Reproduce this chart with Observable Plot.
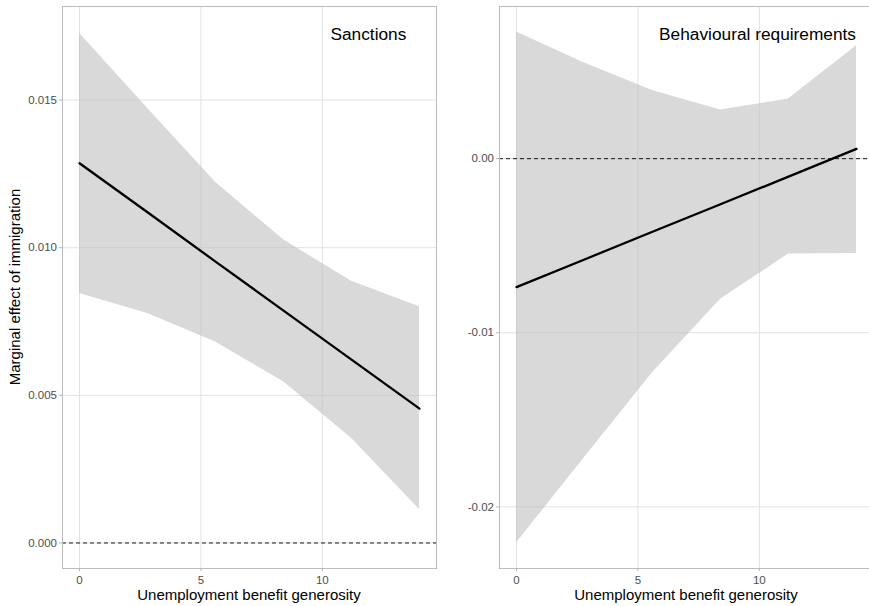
<!DOCTYPE html>
<html><head><meta charset="utf-8">
<script src="https://cdn.jsdelivr.net/npm/d3@7"></script>
<script src="https://cdn.jsdelivr.net/npm/@observablehq/plot@0.6"></script>
<style>
html,body{margin:0;padding:0;background:#fff;}
#wrap{position:relative;width:869px;height:606px;overflow:hidden;font-family:"Liberation Sans",Arial,sans-serif;}
#wrap svg{position:absolute;top:0;}
</style></head>
<body><div id="wrap"></div>
<script>
// Data
const generosity = [0, 2.8, 5.6, 8.4, 11.2, 14];
const sanctionsEst = [0.01286, 0.01120, 0.00953, 0.00787, 0.00621, 0.00455];
const sanctionsHi  = [0.01726, 0.01472, 0.01222, 0.01027, 0.00886, 0.00800];
const sanctionsLo  = [0.00845, 0.00777, 0.00681, 0.00546, 0.00355, 0.00113];
const behavEst = [-0.00738, -0.00579, -0.00420, -0.00262, -0.00103, 0.00056];
const behavHi  = [0.00727, 0.00549, 0.00391, 0.00280, 0.00342, 0.00648];
const behavLo  = [-0.02207, -0.01717, -0.01230, -0.00808, -0.00548, -0.00544];
const xTicks = [0, 5, 10];
const sanctionsTicks = [0, 0.005, 0.010, 0.015];
const behavTicks = [-0.02, -0.01, 0.00];
const panelTitles = ["Sanctions", "Behavioural requirements"];
const xTitle = "Unemployment benefit generosity";
const yTitle = "Marginal effect of immigration";

const font = '"Liberation Sans", Arial, sans-serif';
function panel({est, hi, lo, yDomain, yTicks, fmt, title, titleX, marginLeft, marginRight}) {
  const data = generosity.map((x, i) => ({x, est: est[i], hi: hi[i], lo: lo[i]}));
  const f = d3.formatLocale({decimal: ".", thousands: ",", grouping: [3], currency: ["", ""], minus: "-"}).format(fmt);
  return Plot.plot({
    width: 440, height: 606,
    marginLeft, marginRight, marginTop: 6, marginBottom: 38,
    style: {fontFamily: font, background: "transparent"},
    x: {domain: [-0.7, 14.7], label: null},
    y: {domain: yDomain, label: null},
    marks: [
      Plot.gridX(xTicks, {stroke: "#e2e2e2", strokeOpacity: 1}),
      Plot.gridY(yTicks, {stroke: "#e2e2e2", strokeOpacity: 1}),
      Plot.areaY(data, {x: "x", y1: "lo", y2: "hi", fill: "#bdbdbd", fillOpacity: 0.58}),
      Plot.ruleY([0], {stroke: "#000", strokeWidth: 0.9, strokeDasharray: "4,3"}),
      Plot.lineY(data, {x: "x", y: "est", stroke: "#000", strokeWidth: 2.3}),
      Plot.frame({stroke: "#bcbcbc"}),
      Plot.axisX({ticks: xTicks, tickSize: 3, tickPadding: 4, stroke: "#b3b3b3", fill: "#4d4d4d", fontSize: 11.5, label: null}),
      Plot.axisY({ticks: yTicks, tickFormat: f, tickSize: 3, tickPadding: 2.5, stroke: "#b3b3b3", fill: "#4d4d4d", fontSize: 11.5, label: null}),
      Plot.text([title], {x: titleX, frameAnchor: "top", dy: 33.5, lineAnchor: "bottom", textAnchor: "end", fontSize: 17.3, fill: "#000", text: d => d})
    ]
  });
}

const wrap = document.getElementById("wrap");
const left = panel({est: sanctionsEst, hi: sanctionsHi, lo: sanctionsLo,
  yDomain: [-0.000865, 0.01817], yTicks: sanctionsTicks, fmt: ".3f",
  title: panelTitles[0], titleX: 13.46, marginLeft: 62, marginRight: 4});
left.style.left = "0px";
wrap.appendChild(left);

const right = panel({est: behavEst, hi: behavHi, lo: behavLo,
  yDomain: [-0.02354, 0.00874], yTicks: behavTicks, fmt: ".2f",
  title: panelTitles[1], titleX: 13.98, marginLeft: 59, marginRight: 7});
right.style.left = "440px";
wrap.appendChild(right);

// Axis titles overlay
const ov = d3.select(wrap).append("svg")
  .attr("width", 869).attr("height", 606)
  .style("left", "0px").style("pointer-events", "none")
  .attr("font-family", font);
ov.append("text").attr("x", 249).attr("y", 600).attr("text-anchor", "middle")
  .attr("font-size", 15).attr("fill", "#000").text(xTitle);
ov.append("text").attr("x", 686).attr("y", 600).attr("text-anchor", "middle")
  .attr("font-size", 15).attr("fill", "#000").text(xTitle);
ov.append("text").attr("transform", "translate(20,287) rotate(-90)").attr("text-anchor", "middle")
  .attr("font-size", 15).attr("fill", "#000").text(yTitle);
</script>
</body></html>
